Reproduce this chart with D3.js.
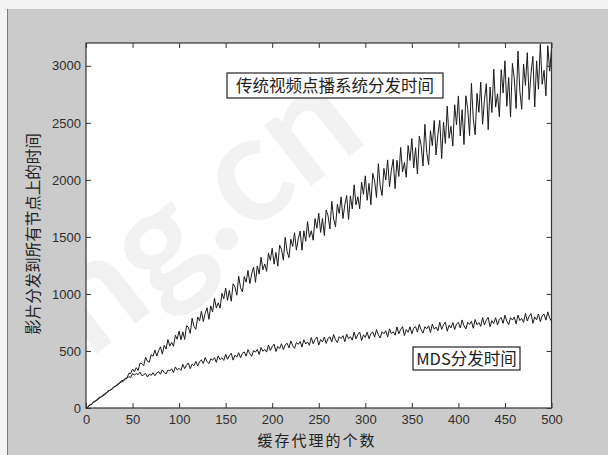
<!DOCTYPE html>
<html>
<head>
<meta charset="utf-8">
<script src="https://cdn.jsdelivr.net/npm/d3@7"></script>
<style>
	body { margin: 0; background: #f4f4f4; }
	.tick text { font-family: "Liberation Sans", Arial, sans-serif; font-size: 13px; fill: #2e2e2e; }
	.tick line { stroke: #333; }
	.cjk { font-family: "Noto Sans CJK SC", sans-serif; fill: #222; }
</style>
</head>
<body>
<div id="chart"></div>
<script>
// x values go 0, 2, 4 ... 500 (cache proxies)
var xStep = 2;

// traditional VOD distribution time
var traditional = [0,7,27,29,55,63,67,94,96,103,127,133,153,154,172,189,188,211,216,240,
	242,260,264,303,303,342,317,354,329,393,390,371,445,411,401,468,453,508,456,502,
	536,472,550,517,600,543,575,541,638,603,674,597,668,601,722,705,654,787,715,690,
	798,764,849,758,829,879,777,895,842,962,878,922,875,1006,958,1052,944,1031,936,1089,
	1061,989,1156,1056,1017,1152,1103,1206,1091,1176,1236,1102,1246,1175,1322,1211,1263,1198,1359,1294,
	1400,1261,1364,1243,1428,1389,1296,1497,1371,1318,1480,1416,1537,1384,1483,1551,1383,1553,1462,1634,
	1496,1554,1471,1660,1576,1708,1539,1661,1512,1736,1685,1570,1812,1657,1590,1786,1705,1851,1661,1782,
	1863,1653,1860,1745,1957,1782,1852,1747,1980,1873,2035,1821,1970,1782,2057,1991,1846,2142,1948,1863,
	2101,1999,2175,1940,2085,2181,1923,2172,2030,2284,2070,2152,2023,2301,2170,2362,2104,2282,2051,2384,
	2302,2122,2487,2242,2133,2430,2300,2521,2218,2400,2522,2187,2506,2319,2646,2365,2469,2296,2659,2483,
	2736,2386,2615,2310,2737,2625,2389,2846,2535,2395,2758,2592,2857,2487,2703,2843,2440,2814,2591,2970,
	2638,2755,2553,2966,2762,3043,2645,2897,2551,3021,2893,2626,3129,2778,2619,3015,2828,3115,2703,2934,
	3083,2639,3043,2795,3190,2838,2960,2737,3177,2953,3150];

// MDS distribution time
var mds = [0,7,29,34,49,56,78,81,98,113,114,133,142,160,163,182,196,200,222,227,
	233,254,259,276,267,302,290,302,293,315,283,292,303,272,296,286,310,283,308,318,
	296,335,311,298,333,325,344,311,360,333,348,330,383,345,376,395,345,385,371,409,
	369,407,421,390,441,408,389,432,420,441,400,457,424,440,417,472,427,459,480,420,
	463,446,485,440,479,492,455,512,475,454,503,490,514,469,531,497,514,490,553,504,
	539,560,495,540,522,563,512,554,568,527,588,547,523,574,558,583,534,599,561,579,
	550,618,563,600,622,552,600,579,622,566,611,624,580,644,598,573,626,608,634,581,
	648,607,625,595,665,606,644,666,592,642,619,665,607,653,667,621,687,641,614,669,
	651,678,622,694,651,669,638,711,650,690,713,635,687,664,712,651,700,713,665,734,
	685,657,713,694,721,662,737,691,710,678,752,689,729,753,673,726,702,750,688,737,
	751,701,772,721,693,751,732,760,699,776,730,749,716,793,728,770,794,712,766,741,
	792,728,778,793,742,814,762,732,792,771,798,737,815,767,786,751,829,763,804,828,
	743,799,773,824,757,808,823,770,843,790,760];

var xTicks = [0, 50, 100, 150, 200, 250, 300, 350, 400, 450, 500];
var yTicks = [0, 500, 1000, 1500, 2000, 2500, 3000];

var labelTraditional = "传统视频点播系统分发时间";
var labelMds = "MDS分发时间";
var xTitle = "缓存代理的个数";
var yTitle = "影片分发到所有节点上的时间";

var size = { width: 608, height: 455 };
var plot = { left: 86, right: 551.5, top: 43, bottom: 408 };

var svg = d3.select("#chart").append("svg")
	.attr("width", size.width)
	.attr("height", size.height);

// figure background
svg.append("rect")
	.attr("x", 8).attr("y", 9)
	.attr("width", size.width - 8).attr("height", size.height - 9)
	.attr("fill", "#cbcbcb");
svg.append("line")
	.attr("x1", 7.5).attr("x2", 7.5).attr("y1", 9).attr("y2", size.height)
	.attr("stroke", "#7a7a7a");

var xScale = d3.scaleLinear().domain([0, 500]).range([plot.left, plot.right]);
var yScale = d3.scaleLinear().domain([0, 3200]).range([plot.bottom, plot.top]);

svg.append("clipPath").attr("id", "plotclip")
	.append("rect")
	.attr("x", plot.left).attr("y", plot.top)
	.attr("width", plot.right - plot.left).attr("height", plot.bottom - plot.top);

// white axes area
svg.append("rect")
	.attr("x", plot.left).attr("y", plot.top)
	.attr("width", plot.right - plot.left).attr("height", plot.bottom - plot.top)
	.attr("fill", "#fff");

// faint watermark, kept inside the axes
svg.append("g")
	.attr("clip-path", "url(#plotclip)")
	.append("text")
	.attr("transform", "translate(22,412) rotate(-38)")
	.style("font-family", "Lato, sans-serif")
	.style("font-weight", "bold")
	.style("font-size", "150px")
	.attr("fill", "#000")
	.attr("opacity", 0.05)
	.text("ong.cn");

var line = d3.line()
	.x(function(d, i) { return xScale(i * xStep); })
	.y(function(d) { return yScale(d); });

var lines = svg.append("g").attr("clip-path", "url(#plotclip)");

[traditional, mds].forEach(function(series) {
	lines.append("path")
		.datum(series)
		.attr("fill", "none")
		.attr("stroke", "#1a1a1a")
		.attr("stroke-width", 1)
		.attr("d", line);
});

var fmt = d3.format("d");

// axes, matlab style ticks pointing inside
svg.append("g")
	.attr("transform", "translate(0," + plot.bottom + ")")
	.call(d3.axisBottom(xScale).tickValues(xTicks).tickFormat(fmt).tickSizeInner(-5).tickSizeOuter(0).tickPadding(7))
	.call(function(g) { g.select(".domain").remove(); });

svg.append("g")
	.attr("transform", "translate(0," + plot.top + ")")
	.call(d3.axisTop(xScale).tickValues(xTicks).tickSizeInner(-5).tickSizeOuter(0).tickFormat(""))
	.call(function(g) { g.select(".domain").remove(); });

svg.append("g")
	.attr("transform", "translate(" + plot.left + ",0)")
	.call(d3.axisLeft(yScale).tickValues(yTicks).tickFormat(fmt).tickSizeInner(-5).tickSizeOuter(0).tickPadding(5))
	.call(function(g) { g.select(".domain").remove(); });

svg.append("g")
	.attr("transform", "translate(" + plot.right + ",0)")
	.call(d3.axisRight(yScale).tickValues(yTicks).tickSizeInner(-5).tickSizeOuter(0).tickFormat(""))
	.call(function(g) { g.select(".domain").remove(); });

// box round the axes
svg.append("rect")
	.attr("x", plot.left).attr("y", plot.top)
	.attr("width", plot.right - plot.left).attr("height", plot.bottom - plot.top)
	.attr("fill", "none")
	.attr("stroke", "#333")
	.attr("stroke-width", 1.2);

// axis titles
svg.append("text")
	.attr("class", "cjk")
	.attr("x", 317).attr("y", 446)
	.attr("text-anchor", "middle")
	.style("font-size", "15px")
	.style("letter-spacing", "2px")
	.text(xTitle);

svg.append("text")
	.attr("class", "cjk")
	.attr("transform", "translate(39,234) rotate(-90)")
	.attr("text-anchor", "middle")
	.style("font-size", "15.5px")
	.text(yTitle);

// labelled boxes inside the plot
function addLabel(text, x, y, w, h) {
	svg.append("rect")
		.attr("x", x).attr("y", y).attr("width", w).attr("height", h)
		.attr("fill", "#fff")
		.attr("stroke", "#222")
		.attr("stroke-width", 1.2);
	svg.append("text")
		.attr("class", "cjk")
		.attr("x", x + w / 2).attr("y", y + h / 2 + 6)
		.attr("text-anchor", "middle")
		.style("font-size", "16.5px")
		.text(text);
}

addLabel(labelTraditional, 227, 73, 216, 25);
addLabel(labelMds, 413, 347, 107, 23);
</script>
</body>
</html>
